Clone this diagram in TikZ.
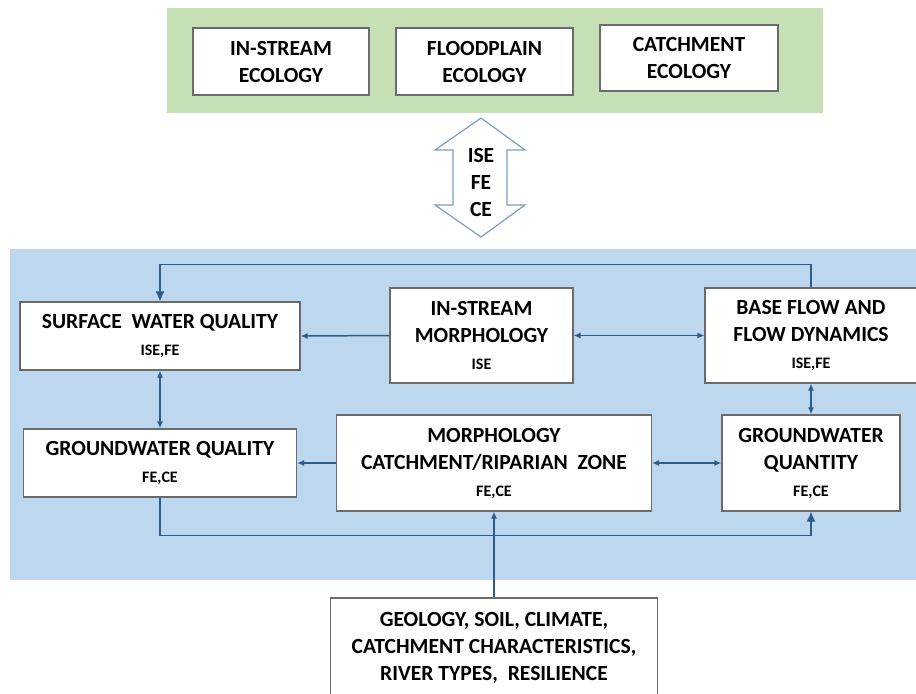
\documentclass[tikz,border=0pt]{standalone}
\usepackage{fontspec}
\setmainfont{Carlito}
\usetikzlibrary{positioning, arrows.meta}

\definecolor{ecogreen}{HTML}{C5E0B4}
\definecolor{hydroblue}{HTML}{BDD7EE}
\definecolor{linkblue}{HTML}{2E5C8A}
\definecolor{arrowrim}{HTML}{7A9CC8}
\definecolor{boxgray}{HTML}{6B6B6B}

\newcommand{\codes}[1]{{\fontsize{8}{13.5}\selectfont #1}}

\begin{document}
\begin{tikzpicture}[
    x=0.5pt, y=-0.5pt,
    font=\fontsize{10.8}{13.5}\selectfont\bfseries,
    box/.style={draw=boxgray, fill=white, line width=0.55pt, align=center, inner sep=0pt},
    link/.style={draw=linkblue, line width=0.75pt, -{Latex[length=3.5pt,width=3pt]}},
    both/.style={link, {Latex[length=3.5pt,width=3pt]}-{Latex[length=3.5pt,width=3pt]}},
    loop/.style={draw=linkblue, line width=0.75pt, -{Latex[length=5pt,width=4.5pt]}}
]
\path[use as bounding box, clip] (0,0) rectangle (916,693);

% panels
\fill[ecogreen] (167,8) rectangle (823,113);
\fill[hydroblue] (10,249) rectangle (920,580);

% ecology
\node[box, minimum width=88pt, minimum height=33.5pt] (isec) at (281,61.5) {IN-STREAM\\ECOLOGY};
\node[box, minimum width=88.5pt, minimum height=33.5pt] (fpec) at (484.5,61.5) {FLOODPLAIN\\ECOLOGY};
\node[box, minimum width=89pt, minimum height=33pt] (ctec) at (689,58) {CATCHMENT\\ECOLOGY};

% shared arrow
\draw[arrowrim, fill=white, line width=0.6pt, line join=miter]
    (481,118) -- (525,150) -- (507,150) -- (507,205) -- (525,205) -- (481,237)
    -- (435,205) -- (453,205) -- (453,150) -- (435,150) -- cycle;
\node[align=center, inner sep=0pt] (share) at (481,182) {ISE\\FE\\CE};

% hydrology
\node[box, minimum width=140pt, minimum height=34pt] (surf) at (160,336) {SURFACE\ \ WATER QUALITY\\\codes{ISE,FE}};
\node[box, minimum width=136.5pt, minimum height=34pt] (gwql) at (160,463) {GROUNDWATER QUALITY\\\codes{FE,CE}};
\node[box, minimum width=91.5pt, minimum height=47.5pt] (ismo) at (481.5,335.5) {IN-STREAM\\MORPHOLOGY\\\codes{ISE}};
\node[box, minimum width=106pt, minimum height=47.5pt] (bflow) at (811,335.5) {BASE FLOW AND\\FLOW DYNAMICS\\\codes{ISE,FE}};
\node[box, minimum width=157.5pt, minimum height=48pt] (mcat) at (494,463) {MORPHOLOGY\\CATCHMENT/RIPARIAN\ \ ZONE\\\codes{FE,CE}};
\node[box, minimum width=89pt, minimum height=48pt] (gwqt) at (811,463) {GROUNDWATER\\QUANTITY\\\codes{FE,CE}};
\node[box, minimum width=163.5pt, minimum height=50pt] (geo) at (494,648) {GEOLOGY, SOIL, CLIMATE,\\CATCHMENT CHARACTERISTICS,\\RIVER TYPES,\ \ RESILIENCE};

\draw[loop] (bflow.north) -- ++(0,-23) -| (surf.north);
\draw[link] (ismo.west) -- (surf.east);
\draw[both] (ismo.east) -- (bflow.west);
\draw[both] (surf.south) -- (gwql.north);
\draw[both] (bflow.south) -- (gwqt.north);
\draw[link] (mcat.west) -- (gwql.east);
\draw[both] (mcat.east) -- (gwqt.west);
\draw[loop] (gwql.south) -- ++(0,38) -| (gwqt.south);
\draw[link] (geo.north) -- (mcat.south);
\end{tikzpicture}
\end{document}
